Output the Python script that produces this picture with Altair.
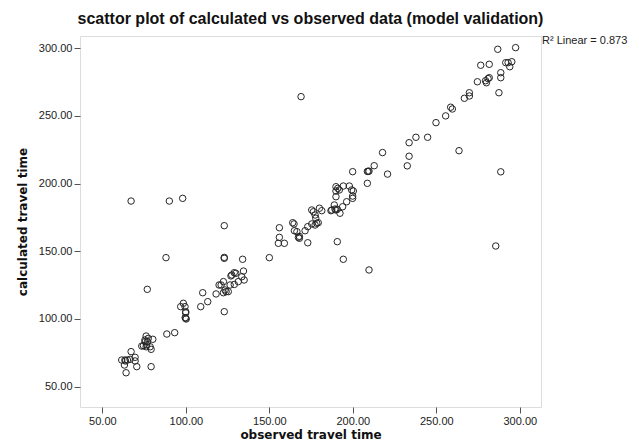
import altair as alt
import pandas as pd

observed = [
    # low cluster
    61.6, 63.5, 65.0, 66.6, 63.8, 69.6, 69.6, 63.2, 70.6, 79.2, 64.2, 67.2,
    73.6, 74.6, 76.2, 78.6, 79.2, 75.6, 77.0, 76.2, 77.5, 80.2, 88.6, 93.3,
    76.5, 75.5,
    # 100-135 cluster
    96.9, 98.5, 99.5, 99.9, 99.9, 99.9, 100.2, 99.6, 108.9, 110.1, 113.1, 118.1,
    119.9, 121.1, 122.5, 123.5, 124.1, 125.4, 122.5, 123.0, 126.5, 127.5, 129.9,
    129.0, 131.4, 133.5, 134.9, 134.5, 134.0, 123.0, 123.0, 88.1, 76.9, 123.0,
    127.0, 129.0,
    # 150-180 cluster
    150.0, 156.0, 156.0, 155.4, 159.0, 164.0, 164.8, 165.0, 167.4, 168.0, 173.0,
    171.4, 173.0, 175.4, 176.4, 180.0, 181.4, 177.4, 177.8, 178.4, 177.4, 175.4,
    179.3, 166.5, 168.0,
    # 185-210 cluster
    189.9, 191.0, 189.9, 191.9, 194.3, 197.9, 199.3, 200.3, 199.9, 199.9, 189.9,
    196.3, 193.9, 192.3, 189.9, 188.9, 186.9, 189.3, 190.7, 187.4, 190.7, 194.3,
    209.7,
    # 200-300
    199.9, 208.7, 209.2, 209.7, 208.7, 212.8, 217.8, 220.8, 232.6, 233.7, 233.7,
    237.8, 244.8, 249.8, 255.6, 258.6, 259.6, 263.6, 266.8, 269.8, 269.8, 274.6,
    279.5, 280.0, 281.0, 281.7, 276.6, 281.7, 286.8, 297.5, 291.6, 293.0, 295.2,
    294.0, 288.6, 288.6, 287.5, 288.6, 285.6, 169.0,
    # high outliers
    67.2, 90.1, 98.1,
]

calculated = [
    69.7, 69.7, 69.7, 70.2, 69.0, 71.7, 69.0, 66.0, 64.8, 64.8, 60.3, 75.9,
    80.0, 80.3, 79.5, 79.5, 77.6, 83.2, 83.2, 87.4, 85.7, 85.0, 88.9, 89.9,
    81.0, 84.5,
    109.1, 111.6, 109.1, 105.4, 104.5, 100.5, 100.0, 101.0, 109.1, 119.4, 112.8, 118.5,
    125.1, 125.1, 127.6, 121.4, 120.2, 120.2, 119.4, 105.4, 125.1, 132.5, 133.7,
    125.5, 127.6, 131.2, 128.8, 135.4, 144.1, 144.8, 145.5, 145.3, 121.9, 168.9,
    131.8, 134.2,
    145.3, 167.4, 160.3, 155.9, 155.9, 171.1, 170.2, 165.2, 160.3, 159.6, 156.3,
    165.2, 168.2, 180.5, 179.2, 181.8, 180.0, 176.8, 174.4, 170.7, 169.4, 170.2,
    171.1, 164.5, 161.0,
    197.7, 196.5, 194.5, 195.3, 198.2, 198.2, 195.3, 194.5, 190.8, 189.1, 190.3,
    186.6, 182.9, 178.1, 180.5, 184.2, 180.0, 181.2, 181.0, 180.5, 157.1, 144.1,
    136.2,
    208.8, 209.0, 209.0, 209.2, 200.2, 213.2, 222.9, 207.0, 213.1, 220.2, 230.2,
    234.2, 234.2, 245.0, 250.0, 256.4, 255.1, 224.3, 263.0, 264.7, 267.1, 275.2,
    276.0, 274.5, 277.5, 278.2, 287.4, 288.1, 299.2, 300.4, 289.3, 289.3, 290.0,
    286.3, 281.9, 278.2, 267.1, 208.7, 153.9, 264.2,
    187.1, 187.1, 189.1,
]

tick_values = [50, 100, 150, 200, 250, 300]
x_domain = [36.6, 312.7]
y_domain = [35.0, 309.0]
r2_label = ["R\u00b2 Linear = 0.873"]

df = pd.DataFrame({"observed": observed, "calculated": calculated})

points = alt.Chart(df).mark_point(
    shape="circle", filled=False, size=42, stroke="#262626", strokeWidth=1, opacity=1
).encode(
    x=alt.X(
        "observed:Q",
        scale=alt.Scale(domain=x_domain, nice=False, zero=False),
        axis=alt.Axis(
            values=tick_values, format=".2f", title="observed travel time",
            grid=False, domain=False, tickSize=6, tickColor="#555",
            labelPadding=2, labelFontSize=11, labelFont="Liberation Sans",
            labelColor="#222", titleFont="DejaVu Sans", titleFontSize=12,
            titleFontWeight="bold", titleColor="#111", titlePadding=3,
        ),
    ),
    y=alt.Y(
        "calculated:Q",
        scale=alt.Scale(domain=y_domain, nice=False, zero=False),
        axis=alt.Axis(
            values=tick_values, format=".2f", title="calculated travel time",
            grid=False, domain=False, tickSize=6, tickColor="#555",
            labelPadding=2, labelFontSize=11, labelFont="Liberation Sans",
            labelColor="#222", titleFont="DejaVu Sans", titleFontSize=12,
            titleFontWeight="bold", titleColor="#111", titlePadding=9,
        ),
    ),
)

r2 = alt.Chart(pd.DataFrame({"t": r2_label})).mark_text(
    align="left", baseline="middle", fontSize=11, font="Liberation Sans", color="#222"
).encode(x=alt.value(462), y=alt.value(5), text="t:N")

chart = alt.layer(points, r2).properties(
    width=461,
    height=371,
    title=alt.TitleParams(
        text="scattor plot of calculated vs observed data (model validation)",
        font="Liberation Sans", fontSize=16, fontWeight="bold", color="#111",
        anchor="middle", offset=8,
    ),
    autosize=alt.AutoSizeParams(type="none"),
    padding={"left": 72, "top": 28, "right": 90, "bottom": 38},
).configure_view(stroke="#707070", strokeWidth=1.5).configure(background="white")

chart.save("out.html", embed_options={"renderer": "svg", "actions": False})
